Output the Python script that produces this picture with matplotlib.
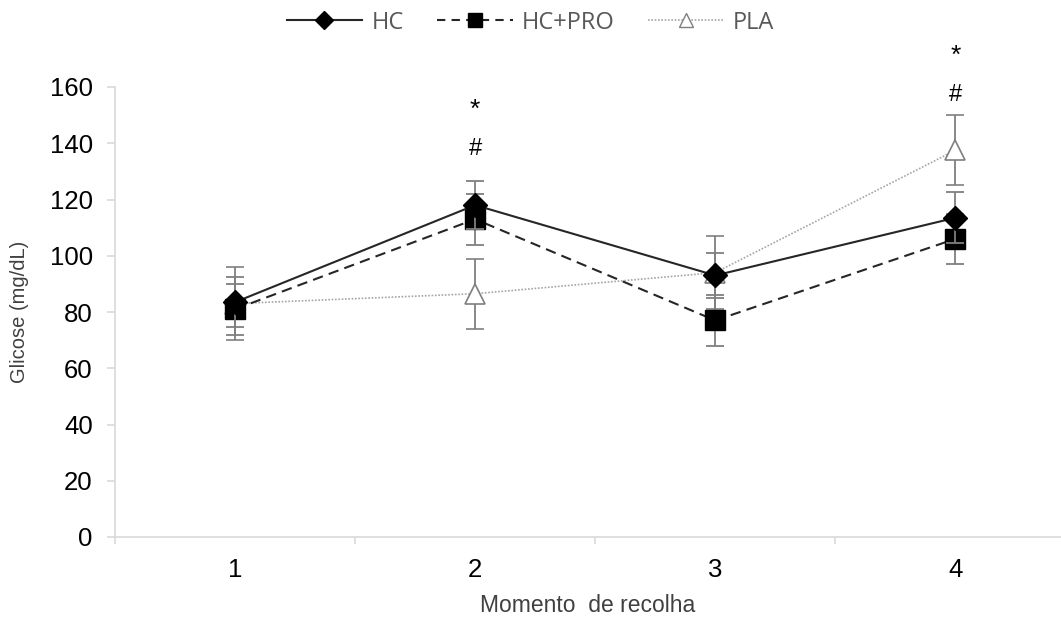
import matplotlib
matplotlib.use("Agg")
import matplotlib.pyplot as plt
from matplotlib.lines import Line2D

moments = [1, 2, 3, 4]
tick_labels = ["1", "2", "3", "4"]
hc_mean = [83.5, 118, 93, 113.5]
hc_err = [9, 8.5, 8, 9]
hcpro_mean = [81, 113, 77, 106]
hcpro_err = [9, 9, 9, 9]
pla_mean = [83, 86.5, 94, 137.5]
pla_err = [13, 12.5, 13, 12.5]
sig_x = [2, 4]
sig_hash_y = [138, 157]
sig_star_y = [152, 171]

plt.rcParams['font.family'] = ['Liberation Sans', 'DejaVu Sans']

fig = plt.figure(figsize=(10.61, 6.17), dpi=100)
ax = fig.add_axes([115/1061, 1-537/617, 1-115/1061, 450/617])

ecol = '#7f7f7f'
ax.errorbar(moments, pla_mean, yerr=pla_err, color='#a6a6a6', ls=(0, (1, 1)), lw=1.2,
            marker='^', ms=14, mfc='white', mec='#7f7f7f', mew=1.2,
            ecolor=ecol, elinewidth=1.3, capsize=6.5, capthick=1.3, zorder=2)
ax.errorbar(moments, hcpro_mean, yerr=hcpro_err, color='#262626', ls=(0, (5, 3)), lw=1.5,
            marker='s', ms=14, mfc='black', mec='black',
            ecolor=ecol, elinewidth=1.3, capsize=6.5, capthick=1.3, zorder=3)
ax.errorbar(moments, hc_mean, yerr=hc_err, color='#262626', ls='-', lw=1.5,
            marker='D', ms=12.5, mfc='black', mec='black',
            ecolor=ecol, elinewidth=1.3, capsize=6.5, capthick=1.3, zorder=4)

for x, yh, ys in zip(sig_x, sig_hash_y, sig_star_y):
    ax.text(x, yh, '#', ha='center', va='center', fontsize=17, clip_on=False)
    ax.text(x, ys, '*', ha='center', va='center', fontsize=19, clip_on=False)

ax.set_xlim(0.5, 4.44)
ax.set_ylim(0, 160)
ax.set_yticks(range(0, 161, 20))
ax.set_xticks(moments)
ax.set_xticklabels(tick_labels)
ax.set_xticks([0.5, 1.5, 2.5, 3.5], minor=True)
ax.tick_params(axis='x', which='major', length=0, pad=15, labelsize=18.5, colors='#000000')
ax.tick_params(axis='x', which='minor', length=5, color='#d9d9d9', width=1.2)
ax.tick_params(axis='y', length=6, color='#d9d9d9', width=1.2, pad=10, labelsize=18.5)
for s in ['top', 'right']:
    ax.spines[s].set_visible(False)
for s in ['left', 'bottom']:
    ax.spines[s].set_color('#d9d9d9')
    ax.spines[s].set_linewidth(1.2)

ax.set_ylabel('Glicose (mg/dL)', fontsize=14.5, color='#404040')
ax.yaxis.set_label_coords((29 - 115) / (1061 - 115), 0.5)
ax.set_xlabel('Momento  de recolha', fontsize=16.5, color='#404040', labelpad=9)

handles = [
    Line2D([], [], color='#262626', ls='-', lw=1.5, marker='D', ms=9, mfc='black', mec='black'),
    Line2D([], [], color='#262626', ls=(0, (4, 3)), lw=1.5, marker='s', ms=10, mfc='black', mec='black'),
    Line2D([], [], color='#a6a6a6', ls=(0, (1, 1)), lw=1.2, marker='^', ms=10, mfc='white', mec='#7f7f7f'),
]
labels = ['HC', 'HC+PRO', 'PLA']
leg = fig.legend(handles, labels,
                 loc='upper center', bbox_to_anchor=(0.5, 1.017), ncol=3, frameon=False,
                 handlelength=3.2, columnspacing=1.4, handletextpad=0.4,
                 prop={'family': ['Open Sans', 'DejaVu Sans'], 'size': 17})
for t in leg.get_texts():
    t.set_color('#595959')

fig.savefig('out.png', dpi=100)
